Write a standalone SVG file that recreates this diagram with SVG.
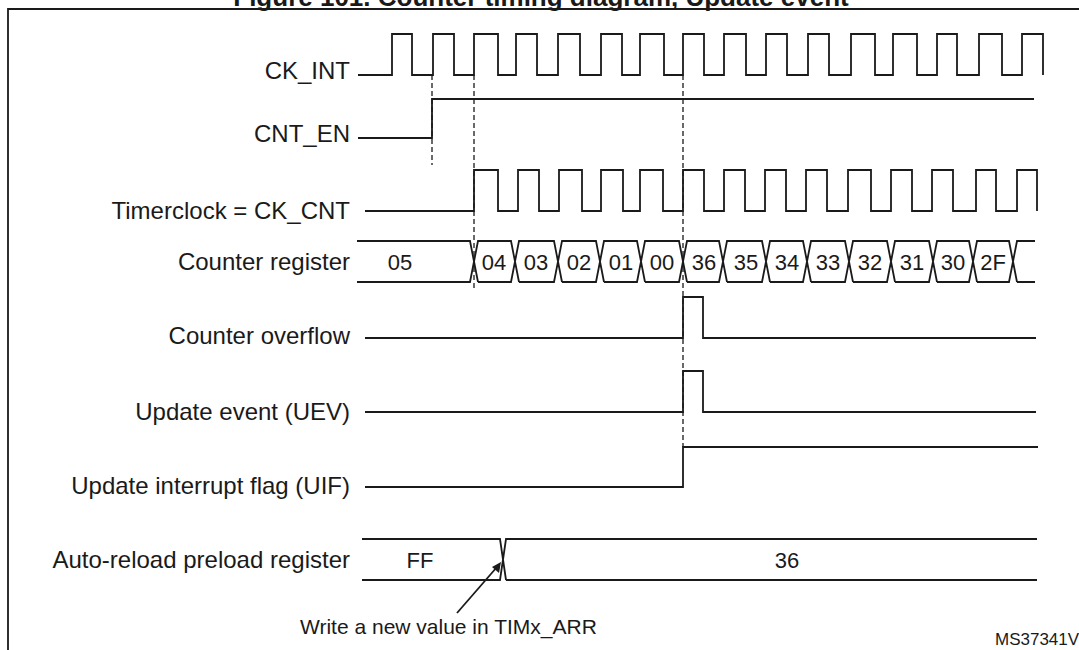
<svg xmlns="http://www.w3.org/2000/svg" width="1079" height="650" viewBox="0 0 1079 650">
<style>
.w{fill:none;stroke:#1a1a1a;stroke-width:1.8}
.d{fill:none;stroke:#1a1a1a;stroke-width:1.3;stroke-dasharray:5,3}
.l{font-family:"Liberation Sans",Arial,sans-serif;font-size:24px;fill:#1a1a1a;text-anchor:end}
.v{font-family:"Liberation Sans",Arial,sans-serif;font-size:22px;fill:#1a1a1a;text-anchor:middle}
</style>
<rect width="1079" height="650" fill="#fff"/>
<text x="541" y="6" font-family="Liberation Sans,Arial,sans-serif" font-size="26" font-weight="bold" text-anchor="middle" fill="#1a1a1a">Figure 101. Counter timing diagram, Update event</text>
<path class="w" d="M8,660 V9 H1085" stroke-width="2"/>
<g id="ck_int"><text class="l" x="350" y="79">CK_INT</text>
<path class="w" d="M358,75 H392 V34 H412 V75 H433 V34 H454 V75 H474 V34 H498 V75 H516 V34 H537 V75 H558 V34 H580 V75 H601 V34 H622 V75 H640 V34 H664 V75 H683 V34 H704 V75 H724 V34 H746 V75 H766 V34 H787 V75 H808 V34 H829 V75 H851 V34 H875 V75 H893 V34 H917 V75 H937 V34 H957 V75 H979 V34 H1002 V75 H1022 V34 H1043 V75"/></g>
<g id="cnt_en"><text class="l" x="350" y="142">CNT_EN</text>
<path class="w" d="M358,138 H432 V99 H1034"/></g>
<g id="timerclock"><text class="l" x="350" y="219">Timerclock = CK_CNT</text>
<path class="w" d="M365,211 H474 V170 H498 V211 H518 V170 H539 V211 H559 V170 H582 V211 H601 V170 H623 V211 H640 V170 H663 V211 H683 V170 H704 V211 H724 V170 H745 V211 H765 V170 H786 V211 H806 V170 H827 V211 H848 V170 H871 V211 H891 V170 H912 V211 H932 V170 H953 V211 H976 V170 H996 V211 H1017 V170 H1037 V211"/></g>
<g id="counter_register"><text class="l" x="350" y="270">Counter register</text>
<path class="w" d="M357,241 H470 L478,282 M357,282 H470 L478,241
H511 L519,282 M478,282 H511 L519,241 H554 L562,282 M519,282 H554 L562,241 H596 L604,282 M562,282 H596 L604,241 H637 L645,282 M604,282 H637 L645,241 H679 L687,282 M645,282 H679 L687,241 H719 L727,282 M687,282 H719 L727,241 H762 L770,282 M727,282 H762 L770,241 H803 L811,282 M770,282 H803 L811,241 H845 L853,282 M811,282 H845 L853,241 H887 L895,282 M853,282 H887 L895,241 H929 L937,282 M895,282 H929 L937,241 H969 L977,282 M937,282 H969 L977,241 H1009 L1017,282 M977,282 H1009 L1017,241 H1035 M1017,282 H1035"/>
<text class="v" x="400" y="270">05</text><text class="v" x="494" y="270">04</text><text class="v" x="536" y="270">03</text><text class="v" x="579" y="270">02</text><text class="v" x="621" y="270">01</text><text class="v" x="662" y="270">00</text><text class="v" x="704" y="270">36</text><text class="v" x="746" y="270">35</text><text class="v" x="787" y="270">34</text><text class="v" x="828" y="270">33</text><text class="v" x="870" y="270">32</text><text class="v" x="912" y="270">31</text><text class="v" x="953" y="270">30</text><text class="v" x="993" y="270">2F</text></g>
<g id="counter_overflow"><text class="l" x="350" y="344">Counter overflow</text>
<path class="w" d="M365,338 H683 V297 H703 V338 H1036"/></g>
<g id="uev"><text class="l" x="350" y="420">Update event (UEV)</text>
<path class="w" d="M365,412 H683 V371 H703 V412 H1036"/></g>
<g id="uif"><text class="l" x="350" y="494">Update interrupt flag (UIF)</text>
<path class="w" d="M365,487 H683 V447 H1038"/></g>
<g id="arr"><text class="l" x="350" y="568">Auto-reload preload register</text>
<path class="w" d="M362,539 H500 L506,580 M362,580 H500 L506,539 H1037 M506,580 H1037"/>
<text class="v" x="420" y="568">FF</text><text class="v" x="787" y="568">36</text></g>
<g id="connectors">
<path class="d" d="M432,75 V165 M474,75 V290 M683,75 V447"/>
<path class="w" d="M457,613 L497,567" stroke-width="1.4"/>
<polygon points="501,562 499,573 492,567" fill="#1a1a1a"/>
</g>
<text x="300" y="634" font-family="Liberation Sans,Arial,sans-serif" font-size="21" fill="#1a1a1a">Write a new value in TIMx_ARR</text>
<text x="995" y="645" font-family="Liberation Sans,Arial,sans-serif" font-size="17" fill="#1a1a1a">MS37341V1</text>
</svg>
